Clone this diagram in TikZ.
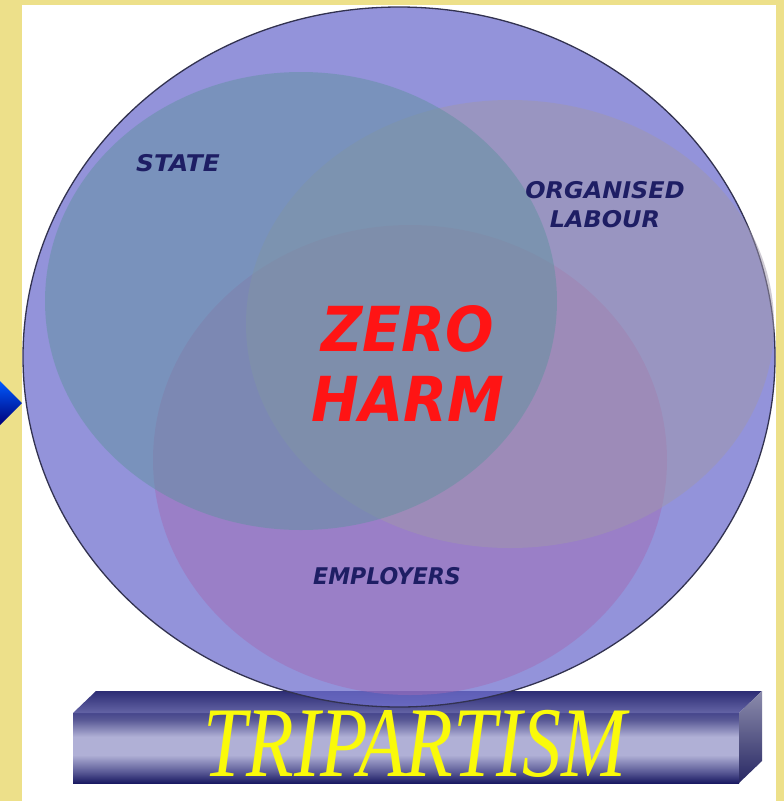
\documentclass[tikz,border=0pt]{standalone}
\usepackage{fontspec}
\usetikzlibrary{shapes.geometric}
\newfontfamily\lblfont{DejaVu Sans}
\newfontfamily\barfont{Liberation Serif}
\definecolor{bgyellow}{RGB}{237,224,138}
\definecolor{bigc}{RGB}{112,112,206}
\definecolor{bigline}{RGB}{50,50,80}
\definecolor{statec}{RGB}{96,146,160}
\definecolor{orgc}{RGB}{160,152,170}
\definecolor{empc}{RGB}{162,108,182}
\definecolor{navytxt}{RGB}{30,30,100}
\definecolor{redtxt}{RGB}{255,20,20}
\definecolor{yellowtxt}{RGB}{250,250,10}
\definecolor{bbot}{RGB}{26,26,98}
\definecolor{bmidb}{RGB}{90,90,150}
\definecolor{blight}{RGB}{176,176,214}
\definecolor{btop}{RGB}{70,70,140}
\definecolor{ttop}{RGB}{44,44,116}
\definecolor{tfront}{RGB}{100,100,165}
\definecolor{rtop}{RGB}{140,140,172}
\definecolor{rbot}{RGB}{40,40,100}
\definecolor{arrtop}{RGB}{0,90,255}
\definecolor{arrbot}{RGB}{0,0,120}
\pgfdeclareverticalshading{barfront}{100bp}{color(0bp)=(bbot); color(25bp)=(bbot); color(33bp)=(bmidb); color(45bp)=(blight); color(58bp)=(blight); color(70bp)=(bmidb); color(75bp)=(btop); color(100bp)=(btop)}
\tikzset{
  venn/.style={ellipse, inner sep=0pt, fill opacity=0.5},
  lbl/.style={inner sep=0pt, text=navytxt, font=\lblfont\bfseries\itshape\fontsize{23}{30}\selectfont, align=center},
}
\begin{document}
\begin{tikzpicture}[x=1pt,y=-1pt]
\useasboundingbox (0,0) rectangle (784,801);
\fill[bgyellow] (0,0) rectangle (784,801);
\fill[white] (22,5) rectangle (776,801);
% arrow on left edge
\shade[top color=arrtop, bottom color=arrbot] (0,381) -- (22,403) -- (0,425) -- cycle;
% bar
\shade[shading=barfront] (73,713) rectangle (739,783);
\shade[top color=ttop, bottom color=tfront] (73,713) -- (96,691) -- (762,691) -- (739,713) -- cycle;
\shade[top color=rtop, bottom color=rbot] (739,713) -- (762,691) -- (762,761) -- (739,783) -- cycle;
\node[inner sep=0pt, text=yellowtxt, font=\barfont\itshape\fontsize{100}{100}\selectfont] (trip) at (415,744) {\scalebox{0.78}[1]{TRIPARTISM}};
% big circle
\node[ellipse, inner sep=0pt, minimum width=752pt, minimum height=700pt, fill=bigc, fill opacity=0.75, draw=bigline, draw opacity=1, line width=1.3pt] (big) at (399,357) {};
% three circles
\node[venn, fill=empc, minimum width=514pt, minimum height=470pt] (emp) at (410,460) {};
\node[venn, fill=orgc, minimum width=528pt, minimum height=448pt] (org) at (510,324) {};
\node[venn, fill=statec, minimum width=512pt, minimum height=458pt] (state) at (301,301) {};
% labels
\node[lbl] (statelbl) at (178,163) {\scalebox{1.08}[1]{STATE}};
\node[lbl] (orglbl) at (605,205) {\scalebox{1.04}[1]{ORGANISED}\\[-1pt]\scalebox{1.04}[1]{LABOUR}};
\node[lbl] (emplbl) at (387,576) {\scalebox{0.96}[1]{EMPLOYERS}};
\node[inner sep=0pt, text=redtxt, font=\lblfont\bfseries\itshape\fontsize{62}{70}\selectfont, align=center] (zero) at (408,363) {\scalebox{0.92}[1]{ZERO}\\\scalebox{0.92}[1]{HARM}};
\end{tikzpicture}
\end{document}
